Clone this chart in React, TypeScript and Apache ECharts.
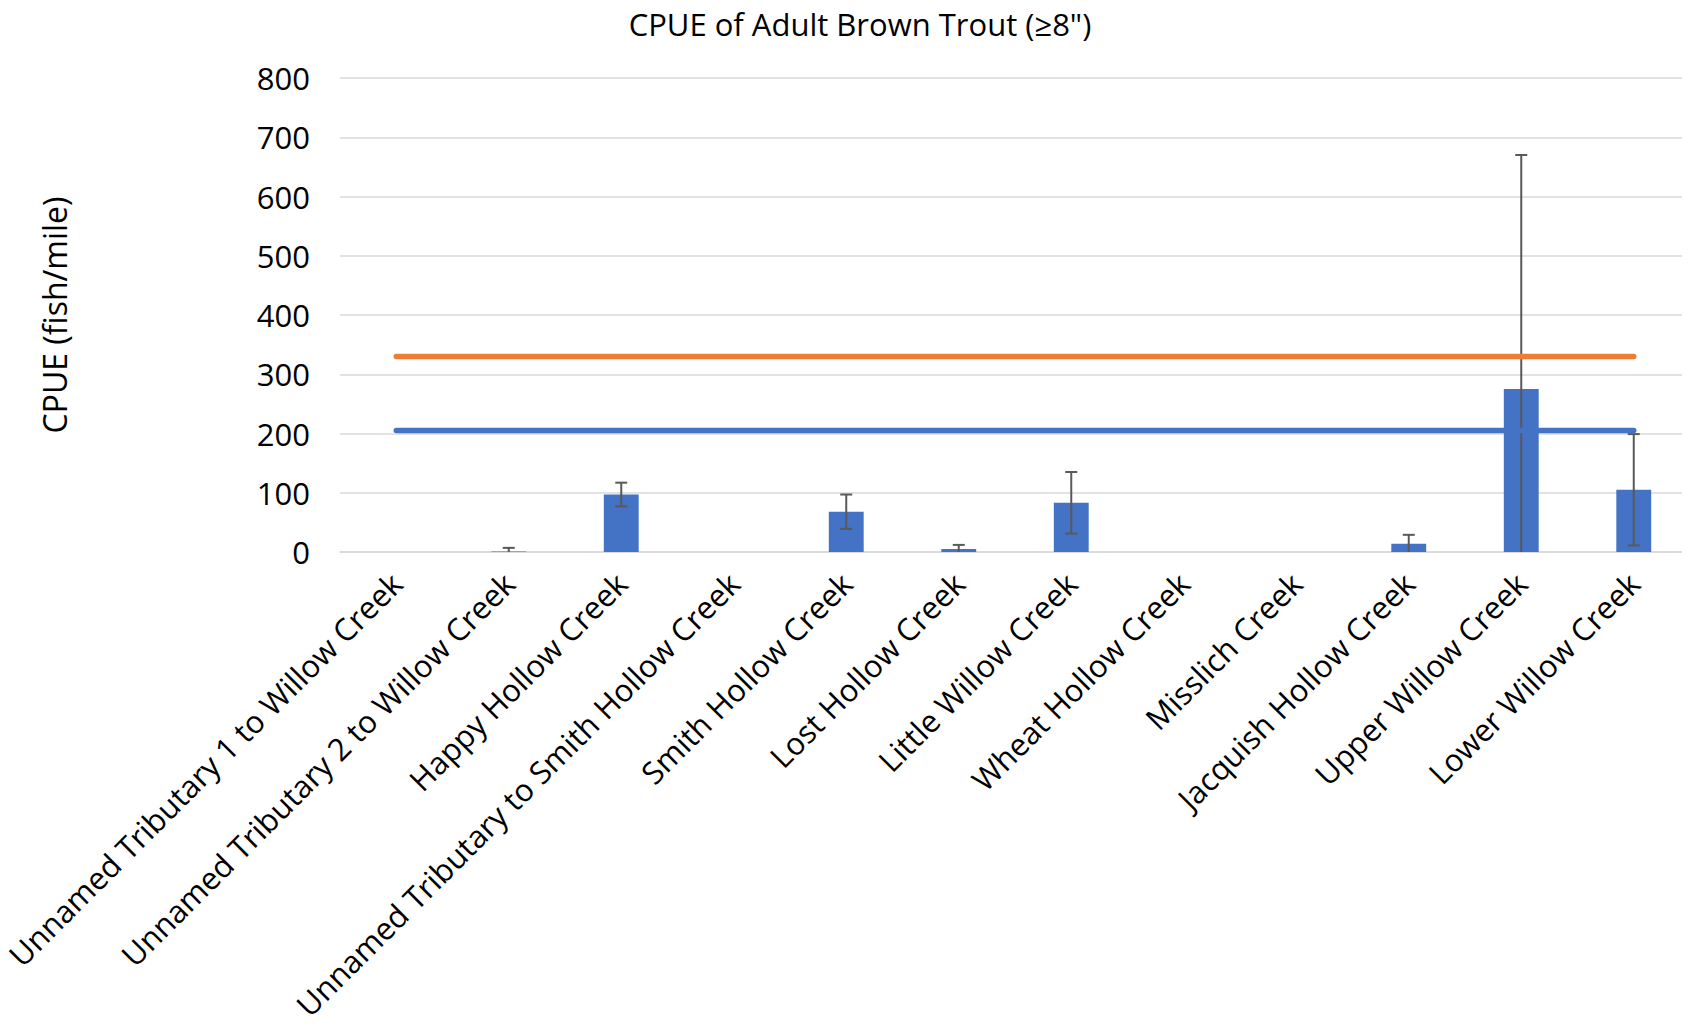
import React, { useEffect, useRef } from "react";
import * as echarts from "echarts";

const categories = [
  "Unnamed Tributary 1 to Willow Creek",
  "Unnamed Tributary 2 to Willow Creek",
  "Happy Hollow Creek",
  "Unnamed Tributary to Smith Hollow Creek",
  "Smith Hollow Creek",
  "Lost Hollow Creek",
  "Little Willow Creek",
  "Wheat Hollow Creek",
  "Misslich Creek",
  "Jacquish Hollow Creek",
  "Upper Willow Creek",
  "Lower Willow Creek",
];
const cpue = [0, 1, 97, 0, 68, 5, 83, 0, 0, 14, 275, 105];
const cpueError = [0, 6, 20, 0, 29, 7, 52, 0, 0, 15, 395, 94];
const blueLineValue = 205;
const orangeLineValue = 330;
const yTicks = [0, 100, 200, 300, 400, 500, 600, 700, 800];

const FONT = "'Open Sans', 'Noto Sans', sans-serif";

export default function App() {
  const ref = useRef<HTMLDivElement>(null);
  useEffect(() => {
    if (!ref.current) return;
    const chart = echarts.init(ref.current, undefined, { renderer: "svg" });
    const errData = cpue.map((v, i) => [i, v - cpueError[i], v + cpueError[i], cpueError[i]]);
    chart.setOption({
      animation: false,
      backgroundColor: "#ffffff",
      title: {
        text: "CPUE of Adult Brown Trout (≥8\")",
        left: 855,
        top: 3,
        textAlign: "center",
        textStyle: { fontFamily: FONT, fontSize: 31, fontWeight: "normal", color: "#000" },
      },
      grid: { left: 340, right: 0, top: 78, bottom: 474, containLabel: false },
      xAxis: {
        type: "category",
        data: categories,
        boundaryGap: true,
        axisLine: { lineStyle: { color: "#D9D9D9", width: 1.5 } },
        axisTick: { show: false },
        axisLabel: {
          rotate: 45,
          interval: 0,
          margin: 26,
          fontFamily: FONT,
          fontSize: 31,
          color: "#000",
        },
      },
      yAxis: {
        type: "value",
        min: yTicks[0],
        max: yTicks[yTicks.length - 1],
        interval: 100,
        name: "CPUE (fish/mile)",
        nameLocation: "middle",
        nameGap: 270,
        nameTextStyle: { fontFamily: FONT, fontSize: 32, color: "#000" },
        axisLine: { show: false },
        axisTick: { show: false },
        splitLine: { lineStyle: { color: "#D9D9D9", width: 1.5 } },
        axisLabel: { fontFamily: FONT, fontSize: 31, color: "#000", margin: 30 },
      },
      series: [
        {
          type: "bar",
          data: cpue,
          barWidth: "31%",
          itemStyle: { color: "#4472C4" },
          z: 2,
        },
        {
          type: "custom",
          data: errData,
          z: 3,
          clip: true,
          renderItem: (params: any, api: any) => {
            const idx = api.value(0);
            const lo = Math.max(0, api.value(1));
            const hi = api.value(2);
            const e = api.value(3);
            if (!(e > 0)) return null;
            const pHi = api.coord([idx, hi]);
            const pLo = api.coord([idx, lo]);
            const cap = 6;
            const style = { stroke: "#595959", lineWidth: 2 };
            const children: any[] = [
              { type: "line", shape: { x1: pHi[0], y1: pHi[1], x2: pLo[0], y2: pLo[1] }, style },
              { type: "line", shape: { x1: pHi[0] - cap, y1: pHi[1], x2: pHi[0] + cap, y2: pHi[1] }, style },
            ];
            if (api.value(1) >= 0) {
              children.push({ type: "line", shape: { x1: pLo[0] - cap, y1: pLo[1], x2: pLo[0] + cap, y2: pLo[1] }, style });
            }
            return { type: "group", children };
          },
        },
        {
          type: "line",
          data: categories.map(() => orangeLineValue),
          symbol: "none",
          lineStyle: { color: "#ED7D31", width: 5.5, cap: "round" },
          z: 4,
        },
        {
          type: "line",
          data: categories.map(() => blueLineValue),
          symbol: "none",
          lineStyle: { color: "#4472C4", width: 5.5, cap: "round" },
          z: 5,
        },
      ],
    });
    return () => chart.dispose();
  }, []);
  return <div ref={ref} style={{ width: 1690, height: 1026, marginLeft: -8, marginTop: -8 }} />;
}
